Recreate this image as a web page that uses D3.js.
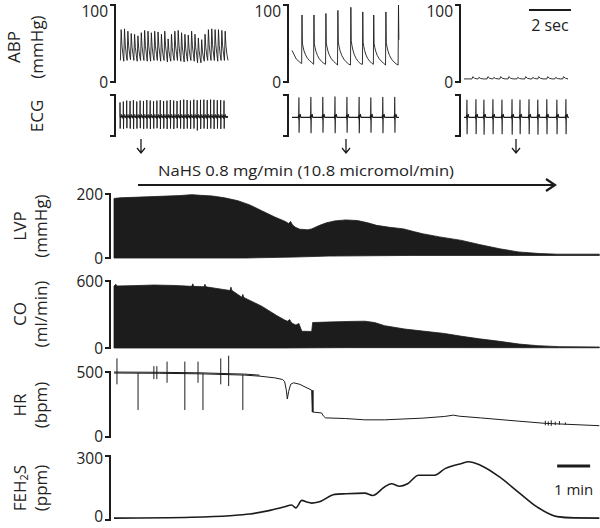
<!DOCTYPE html>
<html><head><meta charset="utf-8">
<script src="https://cdn.jsdelivr.net/npm/d3@7"></script>
<style>
body{margin:0;background:#fff}
svg{display:block}
text{font-family:'Open Sans',sans-serif;fill:#222}
</style>
</head><body>
<svg id="c" width="600" height="528"></svg>
<script>
// ================= DATA =================
// --- top insets (time in seconds) ---
const abpTicks = [0, 100];
// inset 1 : baseline
const abp1Beats   = [0.02,0.18,0.34,0.50,0.66,0.82,0.98,1.14,1.30,1.46,1.62,1.78,1.94,2.10,2.26,2.42,2.58,2.74,2.90,3.06,3.22,3.38,3.54,3.70,3.86,4.02,4.18,4.34,4.50,4.66,4.82,4.98];
const abp1Peaks   = [68,69,66,63,62,60,64,67,66,64,66,65,62,66,56,62,66,67,64,62,61,66,62,57,55,62,68,69,68,68,67,66];
const abp1Troughs = [28,27,28,29,28,27,28,28,27,27,28,28,27,28,26,27,28,28,27,26,27,28,27,25,25,27,28,28,28,27,28,28];
const abp1Shape   = [[0,0],[0.22,1],[0.45,0.5],[0.75,0.2]];
const ecg1Beats   = [0.00,0.16,0.32,0.48,0.64,0.80,0.96,1.12,1.28,1.44,1.60,1.76,1.92,2.08,2.24,2.40,2.56,2.72,2.88,3.04,3.20,3.36,3.52,3.68,3.84,4.00,4.16,4.32,4.48,4.64,4.80,4.96];
const ecg1Up      = [0.80,0.85,0.90,0.88,0.92,0.85,0.90,0.88,0.93,0.90,0.86,0.90,0.92,0.88,0.90,0.93,0.90,0.88,0.92,0.95,0.93,0.90,0.95,0.92,0.94,0.95,0.93,0.95,0.94,0.92,0.93,0.90];
const ecg1Down    = [-0.60,-0.62,-0.58,-0.60,-0.62,-0.60,-0.58,-0.62,-0.60,-0.62,-0.60,-0.58,-0.62,-0.60,-0.62,-0.60,-0.62,-0.58,-0.60,-0.62,-0.60,-0.62,-0.60,-0.70,-0.62,-0.60,-0.62,-0.60,-0.62,-0.60,-0.62,-0.60];
// inset 2 : during NaHS
const abp2Start   = [[0,41],[0.2,30],[0.44,24]];
const abp2Beats   = [0.46,1.03,1.60,2.17,2.79,3.36,3.88,4.46,5.06];
const abp2Peaks   = [87,87,89,93,97,91,87,91,100];
const abp2Troughs = [24,23,23,22,22,23,23,22,22];
const abp2Shape   = [[0,0],[0.03,1],[0.06,0.42],[0.12,0.34],[0.2,0.26],[0.32,0.18],[0.48,0.11],[0.66,0.06],[0.85,0.02]];
const ecg2Beats   = [0.33,0.90,1.47,2.05,2.62,3.20,3.76,4.33,4.90];
const ecg2Up      = [1.05,1.08,1.08,1.10,1.08,1.08,1.05,1.08,1.08];
const ecg2Down    = [-0.80,-0.82,-0.80,-0.82,-0.80,-0.82,-0.80,-0.82,-0.80];
// inset 3 : late
const abp3Base    = 4;
const abp3Beats   = [0.38,0.67,1.10,1.38,1.71,2.10,2.52,2.90,3.24,3.52,3.95,4.33,4.71];
const abp3Peaks   = [7,6,7,6,7,7,6,7,6,7,7,6,7];
const abp3Shape   = [[0,0],[0.04,1],[0.12,0.3],[0.25,0]];
const ecg3Beats   = [0.14,0.57,0.95,1.38,1.81,2.29,2.67,3.10,3.52,3.95,4.43,4.86];
const ecg3Up      = [0.93,0.95,0.93,0.95,0.93,0.95,0.93,0.95,0.93,0.95,0.93,0.95];
const ecg3Down    = [-0.88,-0.88,-0.90,-0.88,-0.88,-0.90,-0.88,-0.88,-0.90,-0.88,-0.88,-0.88];
// ECG complex shape: [dt (s), value, role]  role u = R amplitude, d = S amplitude
const ecgShape = [[-0.03,0,''],[-0.018,0.12,''],[-0.01,-0.08,''],[0,1,'u'],[0.008,-1,'d'],[0.018,0,''],[0.04,0.1,''],[0.065,0.16,''],[0.09,0,'']];

// --- main traces (time in minutes) ---
const lvpTicks = [0, 200];
const lvpUpperT = [0,0.18,1.21,2.00,2.36,2.61,2.97,3.36,3.76,4.12,4.48,4.88,5.18,5.30,5.36,5.42,5.52,5.64,5.88,6.00,6.24,6.45,6.70,7.03,7.39,7.70,7.97,8.36,8.79,9.12,9.36,9.88,10.55,11.09,11.70,12.27,12.91,13.45,14.73];
const lvpUpperV = [186,188,192,195,198,196,194,188,179,166,148,128,115,108,114,103,95,90,88,91,102,110,116,119,117,110,102,96,91,82,76,66,55,42,29,19,14,12,12];
const lvpLowerT = [0,4.0,5.5,6.5,9.0,12.0,14.73];
const lvpLowerV = [0,0,3,6,8,8,8];

const coTicks = [0, 600];
const coUpperT = [0,0.06,0.09,0.79,1.21,1.85,2.36,2.39,2.42,2.73,2.76,2.79,3.30,3.52,3.55,3.58,3.88,3.91,3.94,4.48,4.94,5.18,5.27,5.33,5.39,5.52,5.61,5.70,6.00,6.03,6.45,7.15,7.61,7.91,8.21,8.82,9.36,10.03,10.55,11.09,11.70,12.30,12.85,13.52,14.73];
const coUpperV = [555,570,555,560,564,560,552,575,552,548,570,548,525,515,545,515,455,480,452,375,290,250,240,255,225,205,220,150,148,228,232,238,240,228,200,170,152,130,105,82,60,35,21,12,9];
const coLowerT = [0,5.0,7.0,10.0,14.73];
const coLowerV = [0,0,3,3,2];

const hrTicks = [0, 500];
const hrT = [0,1.39,2.61,3.97,4.42,4.88,5.12,5.18,5.23,5.26,5.30,5.36,5.45,5.64,6.00,6.03,6.30,6.36,6.42,7.03,7.61,8.21,9.36,10.03,10.30,10.48,11.12,12.27,13.09,14.73];
const hrV = [492,490,486,476,468,455,442,425,360,292,350,405,417,405,360,192,185,160,147,142,132,132,145,158,168,160,147,122,105,87];
// artefact spikes: time, top, bottom
const hrSpikeT  = [0.09,0.73,1.21,1.30,1.61,2.15,2.55,2.70,3.24,3.48,3.91,13.09,13.18,13.27,13.39,13.52,13.70];
const hrSpikeHi = [605,492,545,545,580,580,580,486,605,625,478,125,120,128,118,122,112];
const hrSpikeLo = [405,208,445,445,417,208,417,208,405,392,208,90,88,85,92,95,95];

const fehTicks = [0, 300];
const fehT = [0,2.36,3.52,4.12,4.70,5.18,5.39,5.52,5.70,5.85,6.00,6.21,6.70,7.03,7.61,7.85,8.21,8.42,8.67,8.91,9.24,9.73,10.06,10.55,10.76,11.12,11.70,12.27,12.85,13.45,13.97,14.73];
const fehV = [9,13,20,28,44,62,70,57,92,84,79,84,120,123,126,115,155,170,158,170,210,210,242,265,273,257,202,131,60,16,10,9];

const infusionLabel = "NaHS 0.8 mg/min (10.8 micromol/min)";
const insetScaleLabel = "2 sec";
const mainScaleLabel = "1 min";

// ================= DRAW =================
const svg = d3.select('#c');
const ink = '#1c1c1c';
const tickFont = 15.5, labFont = 17;

function bracket(x, y, ticks, labels, nudge){
  const g = svg.append('g');
  const y0 = y(ticks[0]), y1 = y(ticks[ticks.length-1]);
  g.append('path').attr('d',`M${x-5},${y1}H${x}V${y0}H${x-5}`)
    .attr('fill','none').attr('stroke',ink).attr('stroke-width',2);
  if(labels){
    ticks.forEach((t,i)=>{
      const dy = nudge ? nudge[i] : 0;
      g.append('text').attr('x',x-7).attr('y',Math.min(Math.max(y(t)+dy,11),516.5)).attr('text-anchor','end')
        .attr('dominant-baseline','central').attr('font-size',tickFont).text(t);
    });
  }
}
function ylab(lines, xs, cy){
  lines.forEach((l,i)=>{
    const t = svg.append('text').attr('transform',`translate(${xs[i]},${cy}) rotate(-90)`)
      .attr('text-anchor','middle').attr('dominant-baseline','central').attr('font-size',labFont);
    if(Array.isArray(l)){
      l.forEach(p=>{ const ts=t.append('tspan').text(p.t); if(p.sub){ts.attr('font-size',11).attr('dy',4);} else if(p.after){ts.attr('dy',-4);} });
    } else t.text(l);
  });
}

// ---- insets ----
const abpY = d3.scaleLinear().domain([0,100]).range([82,5]);
const ecgY = d3.scaleLinear().domain([-1,1.2]).range([136,95]);
const insetX0 = [120, 292, 464];
const insetW = 108, insetDur = 5.15;
const bracketX = [115, 288, 460];
const lineGen = d3.line();

function abpPoints(beats, peaks, troughs, shape, start){
  const pts = start ? start.slice() : [];
  beats.forEach((t0,i)=>{
    const T = i<beats.length-1 ? beats[i+1]-t0 : beats[i]-beats[i-1];
    shape.forEach(([f,a])=>{
      pts.push([t0+f*T, troughs[i]+a*(peaks[i]-troughs[i])]);
    });
  });
  return pts;
}
function ecgPoints(beats, up, down, dur){
  const pts=[[0,0]];
  beats.forEach((t0,i)=>{
    ecgShape.forEach(([dt,v,r])=>{
      const val = r==='u'? up[i] : r==='d'? down[i] : v;
      pts.push([t0+dt, val]);
    });
  });
  pts.push([dur,0]);
  return pts.filter(p=>p[0]>=0 && p[0]<=dur);
}
function drawTrace(pts, xs, ys, sw){
  svg.append('path').attr('d', lineGen(pts.map(p=>[xs(p[0]), ys(p[1])])))
    .attr('fill','none').attr('stroke',ink).attr('stroke-width',sw||1).attr('stroke-linejoin','round');
}

// inset 1
{
  const xs = d3.scaleLinear().domain([0,insetDur]).range([insetX0[0], insetX0[0]+insetW]);
  const p = abpPoints(abp1Beats,abp1Peaks,abp1Troughs,abp1Shape);
  p.push([insetDur, 28]);
  drawTrace(p.filter(d=>d[0]<=insetDur), xs, abpY, 0.9);
  drawTrace(ecgPoints(ecg1Beats,ecg1Up,ecg1Down,insetDur), xs, ecgY, 0.9);
  svg.append('line').attr('x1',xs(0)).attr('x2',xs(insetDur)).attr('y1',ecgY(0.03)).attr('y2',ecgY(0.03)).attr('stroke',ink).attr('stroke-width',1.6);
}
// inset 2
{
  const xs = d3.scaleLinear().domain([0,insetDur]).range([insetX0[1], insetX0[1]+insetW]);
  const p = abpPoints(abp2Beats,abp2Peaks,abp2Troughs,abp2Shape,abp2Start);
  drawTrace(p.filter(d=>d[0]<=5.12), xs, abpY, 0.9);
  drawTrace(ecgPoints(ecg2Beats,ecg2Up,ecg2Down,5.1), xs, ecgY, 1.1);
}
// inset 3
{
  const xs = d3.scaleLinear().domain([0,insetDur]).range([insetX0[2], insetX0[2]+insetW]);
  const p=[[0,abp3Base]];
  abp3Beats.forEach((t0,i)=>abp3Shape.forEach(([dt,a])=>p.push([t0+dt, abp3Base+a*(abp3Peaks[i]-abp3Base)])));
  p.push([4.95,abp3Base]);
  drawTrace(p, xs, abpY, 0.9);
  drawTrace(ecgPoints(ecg3Beats,ecg3Up,ecg3Down,5.0), xs, ecgY, 1.1);
  // 2 sec scale bar
  const sx0 = xs(3.1);
  svg.append('line').attr('x1',sx0).attr('x2',sx0 + (xs(2)-xs(0))).attr('y1',10).attr('y2',10)
    .attr('stroke',ink).attr('stroke-width',2);
  svg.append('text').attr('x',sx0+(xs(2)-xs(0))/2).attr('y',31).attr('text-anchor','middle')
    .attr('font-size',16).text(insetScaleLabel);
}
bracketX.forEach(bx=>{ bracket(bx, abpY, abpTicks, true); bracket(bx, ecgY, [-1,1.2], false); });
ylab(['ABP','(mmHg)'],[13,36],47);
ylab(['ECG'],[36],116);

// down arrows under insets
[141,346,516].forEach(ax=>{
  svg.append('path').attr('d',`M${ax},139V153M${ax-4},148L${ax},153L${ax+4},148`)
    .attr('fill','none').attr('stroke',ink).attr('stroke-width',1.3);
});

// ---- main panels ----
const x = d3.scaleLinear().domain([0,14.75]).range([114,600]);
const mainBX = 110;

// infusion arrow
svg.append('path').attr('d',`M138,185H555`).attr('stroke',ink).attr('stroke-width',2);
svg.append('path').attr('d',`M546,179L555,185L546,191`).attr('fill','none').attr('stroke',ink).attr('stroke-width',2.2);
svg.append('text').attr('x',158).attr('y',176).attr('font-size',15)
  .attr('textLength',296).attr('lengthAdjust','spacingAndGlyphs').text(infusionLabel);

function band(uT,uV,lT,lV,ys){
  const pts = uT.map((t,i)=>[x(t),ys(uV[i])]).concat(lT.map((t,i)=>[x(t),ys(lV[i])]).reverse());
  svg.append('path').attr('d', lineGen(pts)+'Z').attr('fill',ink).attr('stroke',ink).attr('stroke-width',0.8);
}
const labX = [19, 40];
// LVP
const lvpY = d3.scaleLinear().domain([0,200]).range([258,194]);
band(lvpUpperT,lvpUpperV,lvpLowerT,lvpLowerV,lvpY);
bracket(mainBX, lvpY, lvpTicks, true);
ylab(['LVP','(mmHg)'],labX,226);
// CO
const coY = d3.scaleLinear().domain([0,600]).range([348,281]);
band(coUpperT,coUpperV,coLowerT,coLowerV,coY);
bracket(mainBX, coY, coTicks, true);
ylab(['CO','(ml/min)'],labX,314);
// HR
const hrY = d3.scaleLinear().domain([0,500]).range([437,372]);
svg.append('path').attr('d', lineGen(hrT.map((t,i)=>[x(t),hrY(hrV[i])])))
  .attr('fill','none').attr('stroke',ink).attr('stroke-width',1);
svg.append('path').attr('d', lineGen(hrT.slice(0,5).map((t,i)=>[x(t),hrY(hrV[i])-1])))
  .attr('fill','none').attr('stroke',ink).attr('stroke-width',1);
hrSpikeT.forEach((t,i)=>{
  svg.append('line').attr('x1',x(t)).attr('x2',x(t)).attr('y1',hrY(hrSpikeHi[i])).attr('y2',hrY(hrSpikeLo[i]))
    .attr('stroke',ink).attr('stroke-width',1);
});
svg.append('line').attr('x1',x(6.03)).attr('x2',x(6.03)).attr('y1',hrY(360)).attr('y2',hrY(192)).attr('stroke',ink).attr('stroke-width',2);
bracket(mainBX, hrY, hrTicks, true, [-1.5,0]);
ylab(['HR','(bpm)'],labX,405);
// FEH2S
const fehY = d3.scaleLinear().domain([0,300]).range([520,456]);
svg.append('path').attr('d', d3.line().curve(d3.curveMonotoneX)(fehT.map((t,i)=>[x(t),fehY(fehV[i])])))
  .attr('fill','none').attr('stroke',ink).attr('stroke-width',1.6);
bracket(mainBX, fehY, fehTicks, true, [-4,1.5]);
ylab([[{t:'FEH'},{t:'2',sub:true},{t:'S',after:true}],'(ppm)'],labX,488);
// 1 min scale bar
svg.append('line').attr('x1',x(13.45)).attr('x2',x(14.45)).attr('y1',466).attr('y2',466)
  .attr('stroke',ink).attr('stroke-width',3);
svg.append('text').attr('x',(x(13.45)+x(14.45))/2).attr('y',495).attr('text-anchor','middle')
  .attr('font-size',15).text(mainScaleLabel);
</script>
</body></html>
